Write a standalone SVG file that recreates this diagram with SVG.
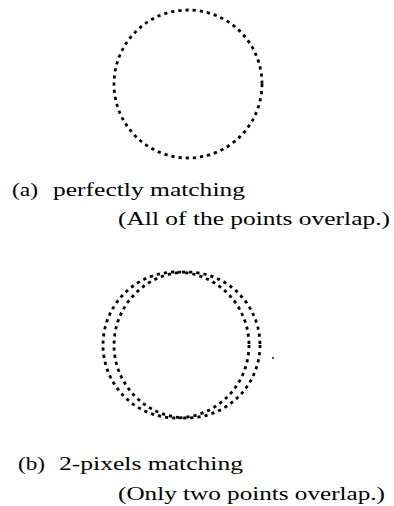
<svg xmlns="http://www.w3.org/2000/svg" width="394" height="506" viewBox="0 0 394 506">
<style>
.c{fill:none;stroke:#000;stroke-width:2.8;stroke-dasharray:3.2 4}
.t{font-family:"Liberation Serif","Times New Roman",serif;font-size:18px;fill:#000}
</style>
<rect width="394" height="506" fill="#fff"/>
<g id="circle-a">
<circle class="c" cx="188" cy="84" r="74"/>
</g>
<g id="label-a">
<text class="t" x="12" y="196" textLength="26" lengthAdjust="spacingAndGlyphs">(a)</text>
<text class="t" x="53" y="196" textLength="192" lengthAdjust="spacingAndGlyphs">perfectly matching</text>
<text class="t" x="118" y="225" textLength="272" lengthAdjust="spacingAndGlyphs">(All of the points overlap.)</text>
</g>
<g id="circle-b">
<circle class="c" cx="176" cy="345" r="73"/>
<circle class="c" cx="187" cy="345" r="73"/>
<circle cx="273" cy="358" r="0.9" fill="#000"/>
</g>
<g id="label-b">
<text class="t" x="18" y="470" textLength="27" lengthAdjust="spacingAndGlyphs">(b)</text>
<text class="t" x="59" y="470" textLength="184" lengthAdjust="spacingAndGlyphs">2-pixels matching</text>
<text class="t" x="118" y="500" textLength="267" lengthAdjust="spacingAndGlyphs">(Only two points overlap.)</text>
</g>
</svg>
